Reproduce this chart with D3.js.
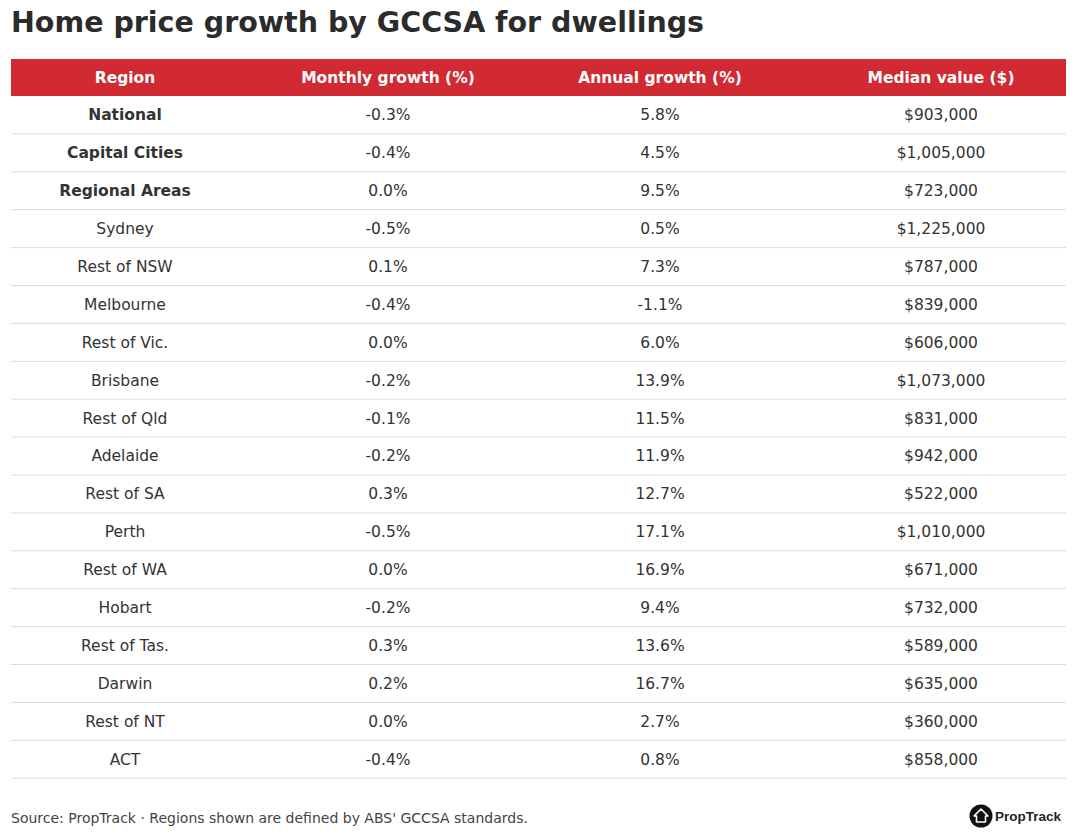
<!DOCTYPE html>
<html>
<head>
<meta charset="utf-8">
<script src="https://cdn.jsdelivr.net/npm/d3@7"></script>
<style>
  body { margin: 0; background: #fff; }
  svg { display: block; }
</style>
</head>
<body>
<svg id="chart" width="1080" height="840"></svg>
<script>
// Table data
const columns = ["Region", "Monthly growth (%)", "Annual growth (%)", "Median value ($)"]
const regions = ["National", "Capital Cities", "Regional Areas", "Sydney", "Rest of NSW", "Melbourne",
  "Rest of Vic.", "Brisbane", "Rest of Qld", "Adelaide", "Rest of SA", "Perth", "Rest of WA",
  "Hobart", "Rest of Tas.", "Darwin", "Rest of NT", "ACT"]
const boldRegions = ["National", "Capital Cities", "Regional Areas"]
const monthly = [-0.3, -0.4, 0.0, -0.5, 0.1, -0.4, 0.0, -0.2, -0.1, -0.2, 0.3, -0.5, 0.0, -0.2, 0.3, 0.2, 0.0, -0.4]
const annual = [5.8, 4.5, 9.5, 0.5, 7.3, -1.1, 6.0, 13.9, 11.5, 11.9, 12.7, 17.1, 16.9, 9.4, 13.6, 16.7, 2.7, 0.8]
const median = [903000, 1005000, 723000, 1225000, 787000, 839000, 606000, 1073000, 831000, 942000,
  522000, 1010000, 671000, 732000, 589000, 635000, 360000, 858000]

const font = "'DejaVu Sans', sans-serif"
const textColor = "#333333"
const red = "#d12a33"

const svg = d3.select("#chart")

const left = 11, right = 1066
const headerTop = 59, headerH = 37, rowH = 37.9

// column centres
const colX = d3.scaleOrdinal().domain(columns).range([125, 388, 660, 941])

const y = d3.scaleBand()
  .domain(regions)
  .range([headerTop + headerH, headerTop + headerH + rowH * regions.length])

// plain hyphen for negatives, as in the original
const pct = d => d3.format(".1f")(d).replace("\u2212", "-") + "%"
const dollars = d3.format("$,")

// Title
svg.append("text")
  .attr("x", 11)
  .attr("y", 32)
  .attr("font-family", font)
  .attr("font-weight", "bold")
  .attr("font-size", 28.5)
  .attr("fill", "#2b2b2b")
  .text("Home price growth by GCCSA for dwellings")

// Header
svg.append("rect")
  .attr("x", left)
  .attr("y", headerTop)
  .attr("width", right - left)
  .attr("height", headerH)
  .attr("fill", red)

svg.selectAll(".head")
  .data(columns)
  .enter()
  .append("text")
  .attr("class", "head")
  .attr("x", d => colX(d))
  .attr("y", headerTop + headerH / 2)
  .attr("dy", "0.35em")
  .attr("text-anchor", "middle")
  .attr("font-family", font)
  .attr("font-weight", "bold")
  .attr("font-size", 15.5)
  .attr("fill", "#ffffff")
  .text(d => d)

// Rows
const rows = svg.selectAll(".row")
  .data(regions.map((r, i) => ({ region: r, monthly: monthly[i], annual: annual[i], median: median[i] })))
  .enter()
  .append("g")
  .attr("class", "row")
  .attr("transform", d => `translate(0, ${y(d.region)})`)

rows.append("line")
  .attr("x1", left)
  .attr("x2", right)
  .attr("y1", y.bandwidth())
  .attr("y2", y.bandwidth())
  .attr("stroke", "#dcdcdc")
  .attr("stroke-width", 1)

const cells = d => [
  { col: columns[0], text: d.region, bold: boldRegions.includes(d.region) },
  { col: columns[1], text: pct(d.monthly) },
  { col: columns[2], text: pct(d.annual) },
  { col: columns[3], text: dollars(d.median) }
]

rows.selectAll("text")
  .data(cells)
  .enter()
  .append("text")
  .attr("x", d => colX(d.col))
  .attr("y", y.bandwidth() / 2)
  .attr("dy", "0.35em")
  .attr("text-anchor", "middle")
  .attr("font-family", font)
  .attr("font-weight", d => d.bold ? "bold" : "normal")
  .attr("font-size", 15.5)
  .attr("fill", textColor)
  .text(d => d.text)

// Footer
svg.append("text")
  .attr("x", 11)
  .attr("y", 818)
  .attr("dy", "0.35em")
  .attr("font-family", font)
  .attr("font-size", 14)
  .attr("fill", "#444")
  .text("Source: PropTrack \u00b7 Regions shown are defined by ABS' GCCSA standards.")

// Logo
const logo = svg.append("g").attr("transform", "translate(981, 816)")
logo.append("circle").attr("r", 11.5).attr("fill", "#111")
logo.append("path")
  .attr("d", "M0,-7 L7,0 L4.5,0 L4.5,6 L-4.5,6 L-4.5,0 L-7,0 Z")
  .attr("fill", "#111")
  .attr("stroke", "#fff")
  .attr("stroke-width", 1.6)
  .attr("stroke-linejoin", "round")
logo.append("text")
  .attr("x", 14)
  .attr("dy", "0.35em")
  .attr("font-family", "'Liberation Sans', Arial, sans-serif")
  .attr("font-weight", "bold")
  .attr("font-size", 13.5)
  .attr("fill", "#222")
  .text("PropTrack")
</script>
</body>
</html>
